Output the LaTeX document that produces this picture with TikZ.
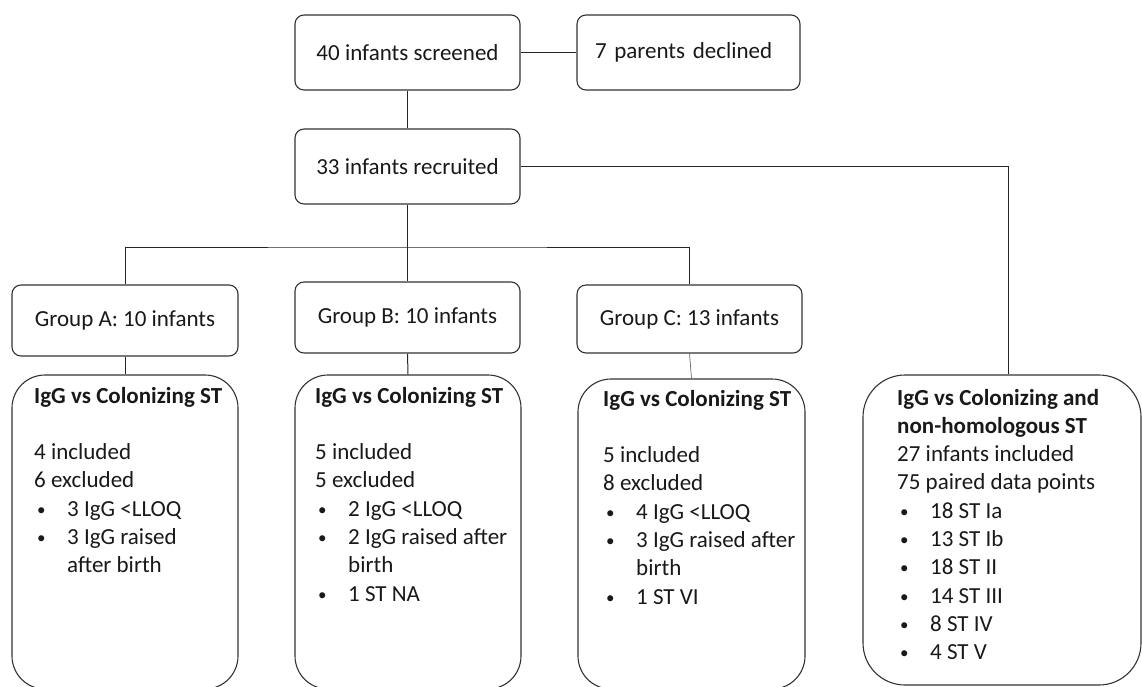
\documentclass[tikz,border=0pt]{standalone}
\usepackage{fontspec}
\setmainfont{Carlito}
\newcommand{\itm}[1]{\hspace*{3pt}\makebox[30pt][l]{\raisebox{1pt}{\fontsize{17}{17}\selectfont •}}#1}
\newcommand{\cnt}[1]{\hspace*{33pt}#1}
\begin{document}
\begin{tikzpicture}[x=1pt,y=-1pt,
  every node/.style={font=\fontsize{23}{28.3}\selectfont, text=black!90},
  sbox/.style={draw=black!80, line width=1.1pt, rounded corners=9pt, inner sep=0pt, align=center},
  bbox/.style={draw=black!80, line width=1.1pt, rounded corners=33pt, inner sep=0pt},
  conn/.style={draw=black!85, line width=1pt},
  txt/.style={anchor=base west, inner sep=0pt}]
\useasboundingbox (0,0) rectangle (1142,686);
\clip (0,0) rectangle (1142,686);
% top boxes
\node[sbox, minimum width=225pt, minimum height=75pt] (s40) at (407.5,52.5) {40 infants screened};
\node[sbox, minimum width=223pt, minimum height=75pt, text width=187pt, align=left] (dec) at (688.5,52.5) {7 parents declined};
\node[sbox, minimum width=225pt, minimum height=75pt] (r33) at (407.5,166.5) {33 infants recruited};
% groups
\node[sbox, minimum width=226pt, minimum height=71pt] (gA) at (125,320.5) {Group A: 10 infants};
\node[sbox, minimum width=225pt, minimum height=71pt] (gB) at (407.5,317.5) {Group B: 10 infants};
\node[sbox, minimum width=225pt, minimum height=68pt] (gC) at (689.5,319) {Group C: 13 infants};
% bottom boxes
\node[bbox, minimum width=226pt, minimum height=314pt] (bA) at (125,532) {};
\node[bbox, minimum width=226pt, minimum height=314pt] (bB) at (408,532) {};
\node[bbox, minimum width=227pt, minimum height=310pt] (bC) at (691.5,534) {};
\node[bbox, rounded corners=42pt, minimum width=278pt, minimum height=310pt] (bR) at (1002,530) {};
% texts of bottom boxes
\node[txt] (tA) at (34,403) {\begin{tabular}[t]{@{}l@{}}
\textbf{IgG vs Colonizing ST}\\
\\
4 included\\
6 excluded\\
\itm{3 IgG <LLOQ}\\
\itm{3 IgG raised}\\
\cnt{after birth}
\end{tabular}};
\node[txt] (tB) at (315,403) {\begin{tabular}[t]{@{}l@{}}
\textbf{IgG vs Colonizing ST}\\
\\
5 included\\
5 excluded\\
\itm{2 IgG <LLOQ}\\
\itm{2 IgG raised after}\\
\cnt{birth}\\
\itm{1 ST NA}
\end{tabular}};
\node[txt] (tC) at (603,406) {\begin{tabular}[t]{@{}l@{}}
\textbf{IgG vs Colonizing ST}\\
\\
5 included\\
8 excluded\\
\itm{4 IgG <LLOQ}\\
\itm{3 IgG raised after}\\
\cnt{birth}\\
\itm{1 ST VI}
\end{tabular}};
\node[txt] (tR) at (897,405) {\begin{tabular}[t]{@{}l@{}}
\textbf{IgG vs Colonizing and}\\
\textbf{non-homologous ST}\\
27 infants included\\
75 paired data points\\
\itm{18 ST Ia}\\
\itm{13 ST Ib}\\
\itm{18 ST II}\\
\itm{14 ST III}\\
\itm{8 ST IV}\\
\itm{4 ST V}
\end{tabular}};
% connectors
\coordinate (jn) at (407.5,247);
\draw[conn] (s40.east) -- (dec.west);
\draw[conn] (s40.south) -- (r33.north);
\draw[conn] (r33.south) -- (jn);
\draw[conn] (gA.north) |- (jn) -| (gC.north);
\draw[conn] (jn) -- (gB.north);
\draw[conn] (r33.east) -| ([xshift=6pt]bR.north);
\draw[conn] (gA.south) -- (bA.north);
\draw[conn] (gB.south) -- (bB.north);
\draw[draw=black!60, line width=0.7pt] (gC.south) -- (bC.north);
\end{tikzpicture}
\end{document}
